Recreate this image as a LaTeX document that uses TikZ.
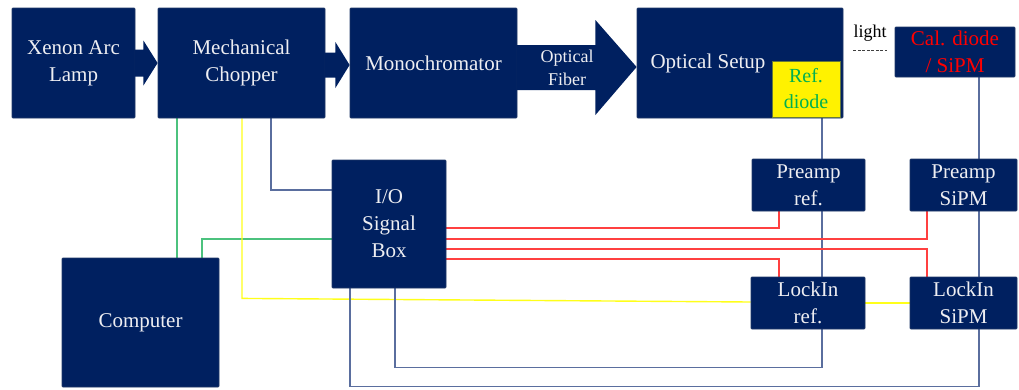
\documentclass[tikz,border=0pt]{standalone}
\usepackage{fontspec}
\setmainfont{Liberation Serif}
\usetikzlibrary{calc,backgrounds}
\definecolor{navy}{HTML}{002060}
\definecolor{boxtxt}{HTML}{EEEEF2}
\definecolor{grnline}{HTML}{4CC27E}
\definecolor{yelline}{HTML}{FFFF1A}
\definecolor{bluline}{HTML}{5A6E9E}
\definecolor{redline}{HTML}{FF4040}
\definecolor{refgreen}{HTML}{00B050}
\tikzset{
  blk/.style={fill=navy, draw=navy!75!gray, line width=0.8pt, rounded corners=1pt,
    text=boxtxt, align=center, inner sep=0pt,
    font=\fontsize{21}{27}\selectfont},
  grn/.style={draw=grnline, line width=1.4pt},
  yel/.style={draw=yelline, line width=1.4pt},
  blu/.style={draw=bluline, line width=1.4pt},
  red/.style={draw=redline, line width=1.4pt},
}
\begin{document}
\begin{tikzpicture}[x=1pt,y=-1pt]
\useasboundingbox (0,0) rectangle (1019,389);
% boxes
\node[blk, minimum width=123, minimum height=110] (lamp) at (73.5,63) {Xenon Arc\\Lamp};
\node[blk, minimum width=167, minimum height=110] (chop) at (241.5,63) {Mechanical\\Chopper};
\node[blk, minimum width=167, minimum height=110] (mono) at (433.5,63) {Monochromator};
\node[blk, minimum width=206, minimum height=110] (os) at (740,63) {};
\node[text=boxtxt, font=\fontsize{21}{27}\selectfont, inner sep=0pt] (ostext) at (708,63) {Optical Setup};
\node[fill=yellow, draw=navy!60!yellow, line width=0.6pt, minimum width=68, minimum height=56, inner sep=0pt,
  text=refgreen, align=center, font=\fontsize{20}{26}\selectfont] (ref) at (806,89) {Ref.\\diode};
\node[blk, minimum width=120, minimum height=50, text=red] (cal) at (955,52) {Cal. diode\\/ SiPM};
\node[blk, minimum width=113, minimum height=52] (pref) at (808.5,185) {Preamp\\ref.};
\node[blk, minimum width=107, minimum height=52] (psipm) at (963.5,185) {Preamp\\SiPM};
\node[blk, minimum width=114, minimum height=128] (io) at (389,224) {I/O\\Signal\\Box};
\node[blk, minimum width=157, minimum height=129] (comp) at (140.5,322.5) {Computer};
\node[blk, minimum width=114, minimum height=52] (lref) at (808,303) {LockIn\\ref.};
\node[blk, minimum width=107, minimum height=52] (lsipm) at (963.5,303) {LockIn\\SiPM};
% block arrows
\fill[navy] ($(lamp.east)+(-1,-13.5)$) -- ($(lamp.east)+(8,-13.5)$) -- ($(lamp.east)+(8,-22.5)$)
  -- (chop.west) -- ($(lamp.east)+(8,22.5)$) -- ($(lamp.east)+(8,13.5)$) -- ($(lamp.east)+(-1,13.5)$) -- cycle;
\fill[navy] ($(chop.east)+(-1,-10.5)$) -- ($(chop.east)+(10,-10.5)$) -- ($(chop.east)+(10,-21)$)
  -- ($(mono.west)+(0,2)$) -- ($(chop.east)+(10,25)$) -- ($(chop.east)+(10,14.5)$) -- ($(chop.east)+(-1,14.5)$) -- cycle;
\fill[navy] ($(mono.east)+(-1,-18)$) -- ($(mono.east)+(78,-18)$) -- ($(mono.east)+(78,-43)$)
  -- ($(os.west)+(0,4)$) -- ($(mono.east)+(78,52)$) -- ($(mono.east)+(78,27)$) -- ($(mono.east)+(-1,27)$) -- cycle;
\node[text=boxtxt, align=center, font=\fontsize{18}{23}\selectfont, inner sep=0pt] (fiber) at (567,68) {Optical\\Fiber};
% light
\node[font=\fontsize{18}{22}\selectfont, inner sep=0pt] (light) at (870,33) {light};
\draw[black!75, dash pattern=on 3pt off 1.5pt, line width=0.9pt]
  ($(os.east)+(10,-13)$) -- ($(cal.west)+(-8,-2)$);
% connectors
\begin{scope}[on background layer]
\draw[grn] ($(chop.south)+(-64.5,0)$) -- ($(comp.north)+(36.5,0)$);
\draw[grn] ($(io.west)+(0,15)$) -| ($(comp.north)+(61.5,0)$);
\draw[yel] ($(chop.south)+(0.5,0)$) -- ($(chop.south)+(0.5,180)$) -- ($(lref.west)+(0,-1)$);
\draw[yel] (lref.east) -- (lsipm.west);
\draw[blu] ($(chop.south)+(29.5,0)$) |- ($(io.west)+(0,-34)$);
\draw[blu] ($(ref.south)+(16,0)$) coordinate (r1) -- (r1 |- lref.south) -- ++(0,38) -| ($(io.south)+(6,0)$);
\draw[blu] ($(cal.south)+(24,0)$) coordinate (c1) -- (c1 |- lsipm.south) -- ++(0,57) -| ($(io.south)+(-39,0)$);
\draw[red] ($(io.east)+(0,4)$) -| ($(pref.south)+(-29.5,0)$);
\draw[red] ($(io.east)+(0,15)$) -| ($(psipm.south)+(-36.5,0)$);
\draw[red] ($(io.east)+(0,25)$) -| ($(lsipm.north)+(-36.5,0)$);
\draw[red] ($(io.east)+(0,35)$) -| ($(lref.north)+(-29,0)$);
\end{scope}
\end{tikzpicture}
\end{document}
